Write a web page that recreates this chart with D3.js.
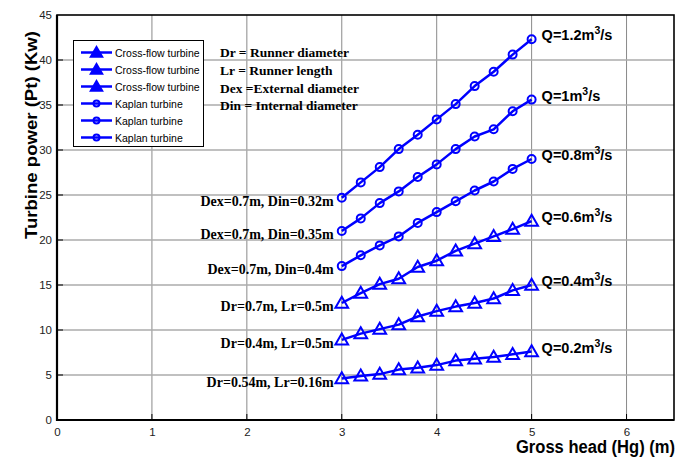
<!DOCTYPE html>
<html>
<head>
<meta charset="utf-8">
<script src="https://cdn.jsdelivr.net/npm/d3@7"></script>
<style>
  html, body { margin: 0; padding: 0; background: #fff; }
  svg { display: block; }
</style>
</head>
<body>
<svg id="chart" width="683" height="469"></svg>
<script>
// Gross head values (m)
const grossHead = [3.0, 3.2, 3.4, 3.6, 3.8, 4.0, 4.2, 4.4, 4.6, 4.8, 5.0];

// Turbine power (kW) per flow rate
const kaplanQ12 = [24.7, 26.4, 28.1, 30.1, 31.7, 33.4, 35.1, 37.1, 38.7, 40.6, 42.3];
const kaplanQ10 = [21.0, 22.4, 24.1, 25.4, 27.0, 28.4, 30.1, 31.5, 32.3, 34.3, 35.6];
const kaplanQ08 = [17.1, 18.3, 19.4, 20.4, 21.9, 23.1, 24.3, 25.5, 26.5, 27.9, 29.0];
const crossQ06 = [13.0, 14.1, 15.1, 15.7, 17.0, 17.7, 18.8, 19.6, 20.4, 21.2, 22.1];
const crossQ04 = [8.9, 9.6, 10.1, 10.6, 11.5, 12.1, 12.6, 13.0, 13.5, 14.4, 15.0];
const crossQ02 = [4.6, 4.9, 5.1, 5.6, 5.8, 6.1, 6.6, 6.8, 7.0, 7.3, 7.6];

const flowLabels = ["1.2", "1", "0.8", "0.6", "0.4", "0.2"];
const sizeLabels = [
  "Dex=0.7m, Din=0.32m",
  "Dex=0.7m, Din=0.35m",
  "Dex=0.7m, Din=0.4m",
  "Dr=0.7m, Lr=0.5m",
  "Dr=0.4m, Lr=0.5m",
  "Dr=0.54m, Lr=0.16m"
];
const turbineTypes = ["kaplan", "kaplan", "kaplan", "cross", "cross", "cross"];
const legendLabels = ["Cross-flow turbine", "Cross-flow turbine", "Cross-flow turbine",
                      "Kaplan turbine", "Kaplan turbine", "Kaplan turbine"];
const legendTypes = ["cross", "cross", "cross", "kaplan", "kaplan", "kaplan"];
const definitions = ["Dr = Runner diameter", "Lr = Runner length",
                     "Dex =External diameter", "Din = Internal diameter"];

const xTicks = [0, 1, 2, 3, 4, 5, 6];
const yTicks = [0, 5, 10, 15, 20, 25, 30, 35, 40, 45];

const seriesValues = [kaplanQ12, kaplanQ10, kaplanQ08, crossQ06, crossQ04, crossQ02];

const series = seriesValues.map((vals, i) => ({
  values: vals.map((v, j) => ({ x: grossHead[j], y: v })),
  type: turbineTypes[i],
  flow: flowLabels[i],
  size: sizeLabels[i]
}));

const svg = d3.select("#chart");
const blue = "#0000ff";
const sans = "Arial, 'Liberation Sans', Helvetica, sans-serif";
const serif = "'Times New Roman', 'Liberation Serif', Times, serif";

const x = d3.scaleLinear().domain([0, 6.5]).range([57, 674]);
const y = d3.scaleLinear().domain([0, 45]).range([420, 15]);

// grid
const grid = svg.append("g");
grid.selectAll("line.vx").data(xTicks.filter(t => t > 0)).join("line")
  .attr("x1", d => x(d)).attr("x2", d => x(d))
  .attr("y1", y(0)).attr("y2", y(45))
  .attr("stroke", "#8a8a8a").attr("stroke-width", 1);
grid.selectAll("line.hy").data(yTicks.filter(t => t > 0 && t < 45)).join("line")
  .attr("x1", x(0)).attr("x2", x(6.5))
  .attr("y1", d => y(d)).attr("y2", d => y(d))
  .attr("stroke", "#ababab").attr("stroke-width", 1.3);

// inward tick marks
grid.selectAll("line.tx").data(xTicks.filter(t => t > 0)).join("line")
  .attr("x1", d => x(d)).attr("x2", d => x(d))
  .attr("y1", y(0)).attr("y2", y(0) - 6)
  .attr("stroke", "#000").attr("stroke-width", 1);
grid.selectAll("line.ty").data(yTicks.filter(t => t > 0 && t < 45)).join("line")
  .attr("x1", x(0)).attr("x2", x(0) + 6)
  .attr("y1", d => y(d)).attr("y2", d => y(d))
  .attr("stroke", "#000").attr("stroke-width", 1);

// frame
svg.append("rect")
  .attr("x", x(0)).attr("y", y(45))
  .attr("width", x(6.5) - x(0)).attr("height", y(0) - y(45))
  .attr("fill", "none").attr("stroke", "#000").attr("stroke-width", 1.6);

// axes
const xAxis = d3.axisBottom(x).tickValues(xTicks).tickSize(0).tickPadding(8).tickFormat(d3.format("d"));
const yAxis = d3.axisLeft(y).tickValues(yTicks).tickSize(0).tickPadding(5).tickFormat(d3.format("d"));
const gx = svg.append("g").attr("transform", `translate(0,${y(0)})`).call(xAxis);
const gy = svg.append("g").attr("transform", `translate(${x(0)},0)`).call(yAxis);
[gx, gy].forEach(g => {
  g.select(".domain").attr("stroke", "#000").attr("stroke-width", 2.2);
  g.selectAll("text").attr("font-family", sans).attr("font-size", 11.5).attr("fill", "#222");
});
gy.select(".domain").attr("d", `M0,${y(0) + 1}V${y(45)}`);
gx.select(".domain").attr("d", `M${x(0) - 1},0H${x(6.5)}`);

// axis titles
svg.append("text")
  .attr("transform", `translate(31,135) rotate(-90)`)
  .attr("text-anchor", "middle").attr("dominant-baseline", "central")
  .attr("font-family", sans).attr("font-weight", "bold").attr("font-size", 17)
  .attr("textLength", 208).attr("lengthAdjust", "spacingAndGlyphs")
  .text("Turbine power (Pt) (Kw)");
svg.append("text")
  .attr("x", 516).attr("y", 453)
  .attr("font-family", sans).attr("font-weight", "bold").attr("font-size", 17.5)
  .attr("textLength", 159).attr("lengthAdjust", "spacingAndGlyphs")
  .text("Gross head (Hg) (m)");

// markers
function drawMarker(g, type, cx, cy, scale) {
  if (type === "kaplan") {
    g.append("circle").attr("cx", cx).attr("cy", cy).attr("r", 4 * scale)
      .attr("fill", "none").attr("stroke", blue).attr("stroke-width", 2);
  } else {
    g.append("path").attr("d", d3.symbol().type(d3.symbolTriangle).size(70 * scale * scale)())
      .attr("transform", `translate(${cx},${cy + 1})`)
      .attr("fill", scale < 1 ? blue : "none").attr("stroke", blue).attr("stroke-width", 2)
      .attr("stroke-linejoin", "miter");
  }
}

// lines
const line = d3.line().x(d => x(d.x)).y(d => y(d.y));
const lines = svg.append("g");
series.forEach(s => {
  lines.append("path").attr("d", line(s.values))
    .attr("fill", "none").attr("stroke", blue).attr("stroke-width", 2.5)
    .attr("stroke-linejoin", "round");
  const mg = lines.append("g");
  s.values.forEach(p => drawMarker(mg, s.type, x(p.x), y(p.y), 1));
});

// flow labels at line ends
series.forEach(s => {
  const last = s.values[s.values.length - 1];
  const t = svg.append("text")
    .attr("x", x(last.x) + 10).attr("y", y(last.y) + 1)
    .attr("font-family", sans).attr("font-weight", "bold").attr("font-size", 14.5)
    .attr("fill", "#000");
  t.append("tspan").text(`Q=${s.flow}m`);
  t.append("tspan").attr("dy", -6).attr("font-size", 10.5).text("3");
  t.append("tspan").attr("dy", 6).text("/s");
});

// runner size labels at line starts
series.forEach(s => {
  const first = s.values[0];
  svg.append("text")
    .attr("x", x(first.x) - 8).attr("y", y(first.y) + 8)
    .attr("text-anchor", "end")
    .attr("font-family", serif).attr("font-weight", "bold").attr("font-size", 14)
    .attr("fill", "#000")
    .text(s.size);
});

// definitions
svg.append("g").selectAll("text").data(definitions).join("text")
  .attr("x", 220).attr("y", (d, i) => 57 + i * 17.8)
  .attr("font-family", serif).attr("font-weight", "bold").attr("font-size", 13.5)
  .text(d => d);

// legend
const lg = svg.append("g");
lg.append("rect").attr("x", 73.5).attr("y", 40.5).attr("width", 130).attr("height", 106)
  .attr("fill", "#fff").attr("stroke", "#000").attr("stroke-width", 1);
legendLabels.forEach((lab, i) => {
  const cy = 52.5 + i * 17;
  lg.append("line").attr("x1", 81).attr("x2", 112).attr("y1", cy).attr("y2", cy)
    .attr("stroke", blue).attr("stroke-width", 2.5);
  drawMarker(lg, legendTypes[i], 96.5, cy, legendTypes[i] === "kaplan" ? 0.75 : 0.9);
  lg.append("text").attr("x", 115).attr("y", cy).attr("dominant-baseline", "central")
    .attr("font-family", sans).attr("font-size", 10.5).text(lab);
});
</script>
</body>
</html>
